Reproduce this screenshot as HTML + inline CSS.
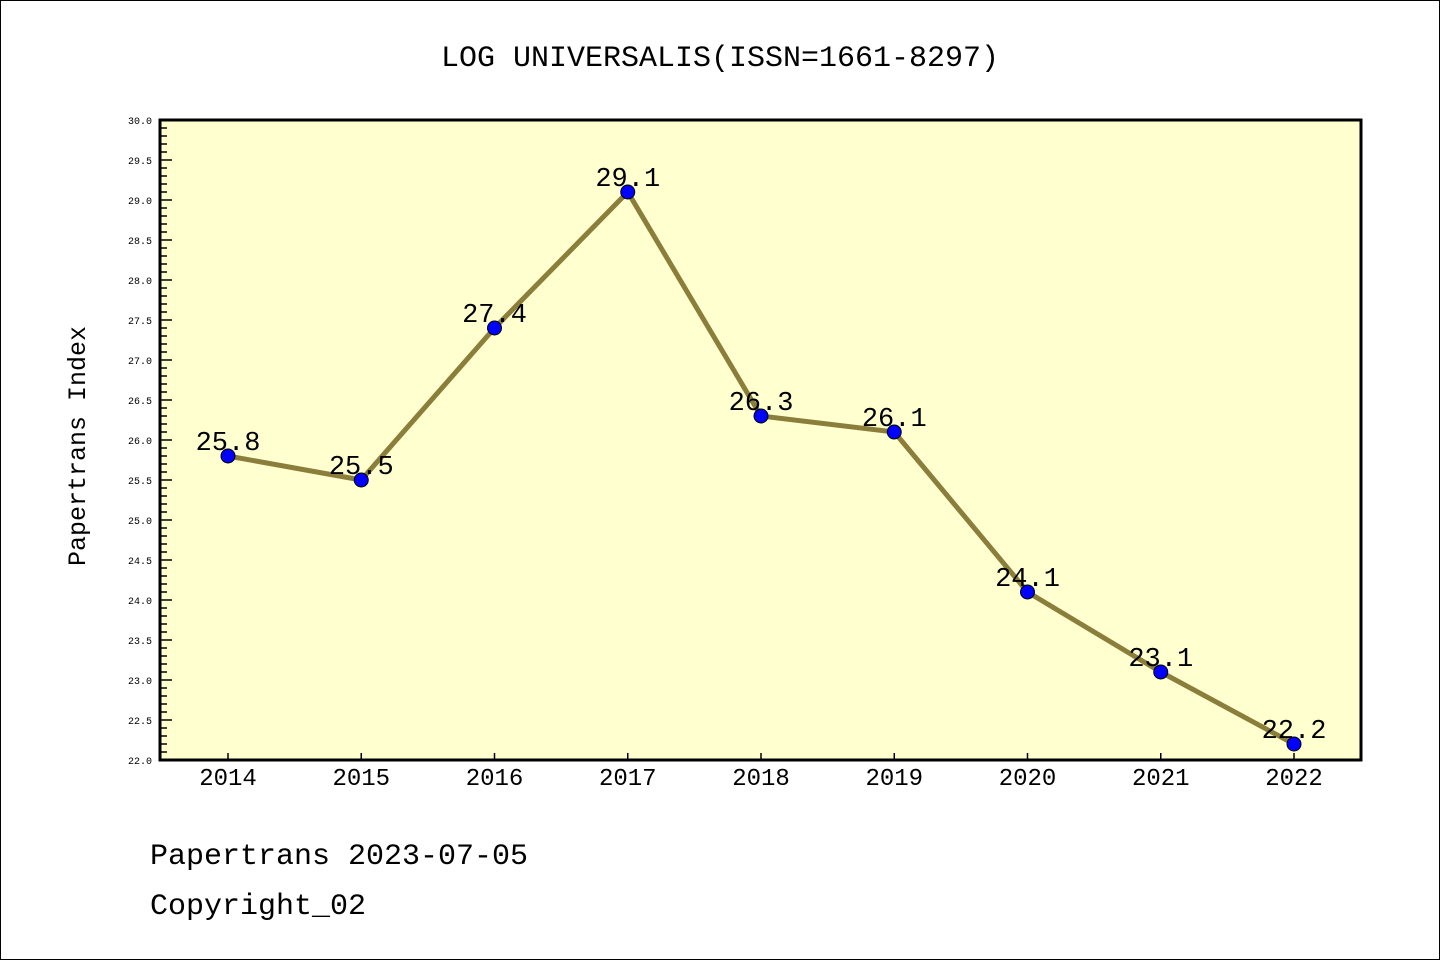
<!DOCTYPE html>
<html><head><meta charset="utf-8"><style>
body{margin:0;background:#fff}
svg{display:block}
text{font-family:"Liberation Mono","DejaVu Sans Mono",monospace}
</style></head><body>
<svg id="c" width="1440" height="960" xmlns="http://www.w3.org/2000/svg">
<rect x="0.5" y="0.5" width="1439" height="959" fill="#fff" stroke="#000"/>
<text x="720" y="66" text-anchor="middle" font-size="30">LOG UNIVERSALIS(ISSN=1661-8297)</text>
<rect x="160" y="120" width="1201" height="640" fill="#ffffd0"/>
<g id="ticks"></g>
<g id="marks"></g>
<rect x="160" y="120" width="1201" height="640" fill="none" stroke="#000" stroke-width="3"/>
<text transform="translate(85,446) rotate(-90)" text-anchor="middle" font-size="25">Papertrans Index</text>
<text x="150" y="864" font-size="30">Papertrans 2023-07-05</text>
<text x="150" y="914" font-size="30">Copyright_02</text>
</svg>
<script>
const categories=["2014","2015","2016","2017","2018","2019","2020","2021","2022"];
const values=[25.8,25.5,27.4,29.1,26.3,26.1,24.1,23.1,22.2];
const yTickLabels=["22.0","22.5","23.0","23.5","24.0","24.5","25.0","25.5","26.0","26.5","27.0","27.5","28.0","28.5","29.0","29.5","30.0"];
const yMin=22,yMax=30;
const NS="http://www.w3.org/2000/svg";
function X(i){return 228+i*(1294-228)/(categories.length-1);}
function Y(v){return 760-(v-yMin)/(yMax-yMin)*640;}
function mk(tag,a,p){const e=document.createElementNS(NS,tag);for(const k in a)e.setAttribute(k,a[k]);p.appendChild(e);return e;}
const tg=document.getElementById('ticks'),mg=document.getElementById('marks');
for(let k=0;k<=(yMax-yMin)*10;k++){
  const v=yMin+k/10,y=Y(v),major=k%5===0;
  const t=mk('line',{x1:160,x2:major?172:167,y1:y,y2:y,stroke:'#000','stroke-width':1.5},tg);
  
  
}
yTickLabels.forEach(s=>{
  const t=mk('text',{x:152,y:Y(parseFloat(s))+4,'text-anchor':'end','font-size':10},tg);
  t.textContent=s;
  
  
});
categories.forEach((c,i)=>{
  const l=mk('line',{x1:X(i),x2:X(i),y1:760,y2:753,stroke:'#000','stroke-width':1.5},tg);
  
  
  const t=mk('text',{x:X(i),y:785,'text-anchor':'middle','font-size':24},tg);
  t.textContent=c;
  
  
});
const pl=mk('polyline',{points:values.map((v,i)=>X(i)+','+Y(v)).join(' '),fill:'none',stroke:'#8b7d3a','stroke-width':5,'stroke-linejoin':'round'},mg);


values.forEach((v,i)=>{
  const c=mk('circle',{cx:X(i),cy:Y(v),r:7,fill:'#0000ff',stroke:'#000','stroke-width':1},mg);
  
  
  const t=mk('text',{x:X(i),y:Y(v)-6,'text-anchor':'middle','font-size':27},mg);
  t.textContent=v.toFixed(1);
  
  
});
</script>
</body></html>
